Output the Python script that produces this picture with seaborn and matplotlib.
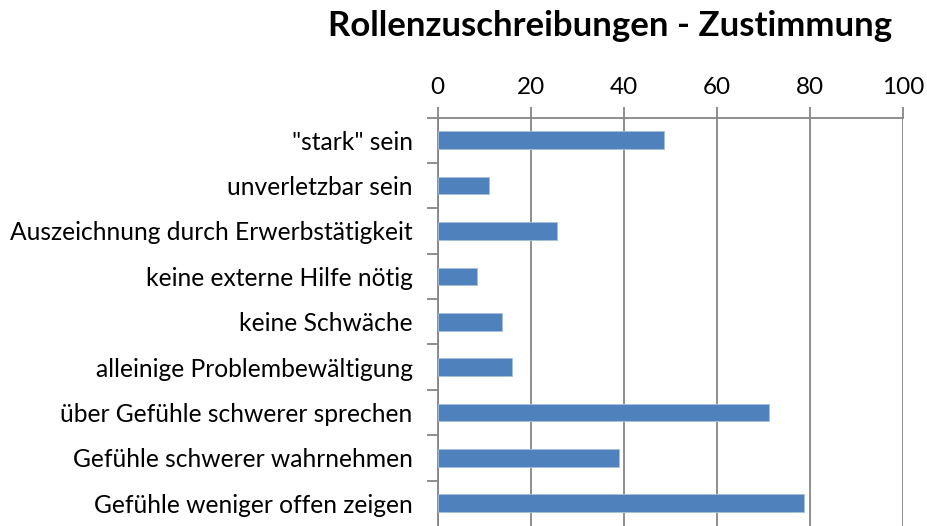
import matplotlib
matplotlib.use("Agg")
import matplotlib.pyplot as plt
import seaborn as sns
import pandas as pd
import numpy as np

categories = [
    '"stark" sein',
    "unverletzbar sein",
    "Auszeichnung durch Erwerbstätigkeit",
    "keine externe Hilfe nötig",
    "keine Schwäche",
    "alleinige Problembewältigung",
    "über Gefühle schwerer sprechen",
    "Gefühle schwerer wahrnehmen",
    "Gefühle weniger offen zeigen",
]
values = [48.7, 11.1, 25.6, 8.5, 13.9, 16.0, 71.1, 39.0, 78.6]
x_ticks = [0, 20, 40, 60, 80, 100]
title = "Rollenzuschreibungen - Zustimmung"

sns.set_theme(style="white")
plt.rcParams["font.family"] = ["Lato", "DejaVu Sans"]

df = pd.DataFrame({"Kategorie": categories, "Wert": values})

fig = plt.figure(figsize=(9.27, 5.26), dpi=100)
ax = fig.add_axes([0.472, 0.0, 0.5025, 0.7766])

sns.barplot(data=df, x="Wert", y="Kategorie", orient="h", color="#4F81BD",
            saturation=1, width=0.39, edgecolor="#A7BFDE", linewidth=0.6,
            ax=ax, zorder=3)

ax.set_xlim(0, 100)
ax.set_ylim(8.5, -0.5)
ax.set_xticks(x_ticks)
ax.set_xticklabels([str(t) for t in x_ticks])
ax.xaxis.tick_top()
ax.set_xlabel("")
ax.set_ylabel("")

grid_c = "#868686"
ax.grid(axis="x", color=grid_c, linewidth=1.3, zorder=0)
ax.grid(axis="y", visible=False)
for s in ["bottom", "right"]:
    ax.spines[s].set_visible(False)
for s in ["top", "left"]:
    ax.spines[s].set_color(grid_c)
    ax.spines[s].set_linewidth(1.3)

ax.tick_params(axis="x", which="major", top=True, bottom=False, length=8,
               width=1.3, color=grid_c, direction="out", labelsize=17.5,
               labelcolor="black", pad=6)
ax.tick_params(axis="y", which="major", left=False, length=0, labelsize=17.7,
               labelcolor="black", pad=18)
ax.set_yticks(np.arange(-0.5, 8.0, 1.0), minor=True)
ax.tick_params(axis="y", which="minor", left=True, length=8, width=1.3,
               color=grid_c, direction="out")

fig.text(0.658, 0.950, title, ha="center", va="center", fontsize=25,
         fontweight="bold", color="black")

fig.savefig("out.png", dpi=100)
